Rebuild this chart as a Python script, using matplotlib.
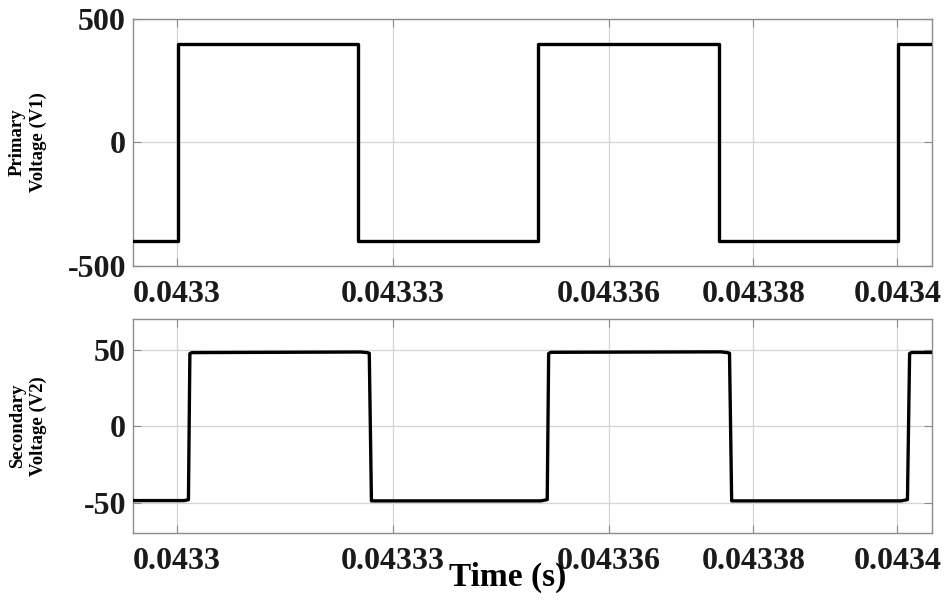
import matplotlib
matplotlib.use("Agg")
import matplotlib.pyplot as plt
import numpy as np

# ---- data ----
# Primary voltage (V1): square wave, transitions (s) and levels (V)
t_v1 = [0.04329, 0.0433001, 0.0433001, 0.0433251, 0.0433251, 0.0433501,
        0.0433501, 0.0433752, 0.0433752, 0.0434001, 0.0434001, 0.043406]
v1 = [-400, -400, 400, 400, -400, -400, 400, 400, -400, -400, 400, 400]

# Secondary voltage (V2)
t_v2 = [0.04329, 0.0433010, 0.0433016, 0.0433018, 0.0433021,
        0.0433255, 0.0433264, 0.0433267, 0.0433270,
        0.0433505, 0.0433514, 0.0433516, 0.0433519,
        0.0433755, 0.0433764, 0.0433767, 0.0433770,
        0.0434005, 0.0434014, 0.0434017, 0.0434020, 0.043406]
v2 = [-48.6, -48.6, -48.0, 47.6, 48.2,
      48.6, 48.2, 47.8, -48.8,
      -48.8, -48.0, 47.6, 48.4,
      48.7, 48.2, 47.8, -48.8,
      -48.8, -48.0, 47.6, 48.3, 48.3]

xticks = [0.0433, 0.04333, 0.04336, 0.04338, 0.0434]
xticklabels = ["0.0433", "0.04333", "0.04336", "0.04338", "0.0434"]
y1ticks = [-500, 0, 500]
y2ticks = [-50, 0, 50]

plt.rcParams['font.family'] = ['Liberation Serif', 'DejaVu Serif']
plt.rcParams['font.weight'] = 'bold'

fig = plt.figure(figsize=(9.47, 6.03), dpi=100)
ax1 = fig.add_axes([0.1404, 0.5594, 0.8437, 0.4086])
ax2 = fig.add_axes([0.1404, 0.1156, 0.8437, 0.3549])

xlim = (0.0432939, 0.0434048)
grid_col = '#d4d4d4'
spine_col = '#8c8c8c'

for ax, t, v, yt, yl, lab in [
        (ax1, t_v1, v1, y1ticks, (-500, 500), "Primary\nVoltage (V1)"),
        (ax2, t_v2, v2, y2ticks, (-70, 70), "Secondary\nVoltage (V2)")]:
    ax.plot(t, v, color='black', lw=2.4, solid_joinstyle='round', zorder=3)
    ax.set_xlim(*xlim)
    ax.set_ylim(*yl)
    ax.set_xticks(xticks)
    ax.set_xticklabels(xticklabels)
    ax.set_yticks(yt)
    ax.set_yticklabels([str(y) for y in yt])
    ax.grid(True, color=grid_col, lw=0.9, zorder=0)
    for s in ax.spines.values():
        s.set_color(spine_col)
        s.set_linewidth(1.0)
    ax.tick_params(direction='in', length=6, width=0.8, color=spine_col,
                   top=True, right=True, labelsize=23)
    ax.tick_params(axis='x', pad=10)
    ax.tick_params(axis='y', pad=5)
    for lbl in ax.get_xticklabels() + ax.get_yticklabels():
        lbl.set_fontweight('bold')
        lbl.set_color('#1a1a1a')
    ax.set_ylabel(lab, fontsize=13.5, fontweight='bold', linespacing=1.3)
    ax.yaxis.set_label_coords(-0.107, 0.5)

fig.text(0.536, 0.028, "Time (s)", fontsize=24, fontweight='bold',
         ha='center', va='baseline')

fig.savefig("out.png", dpi=100)
